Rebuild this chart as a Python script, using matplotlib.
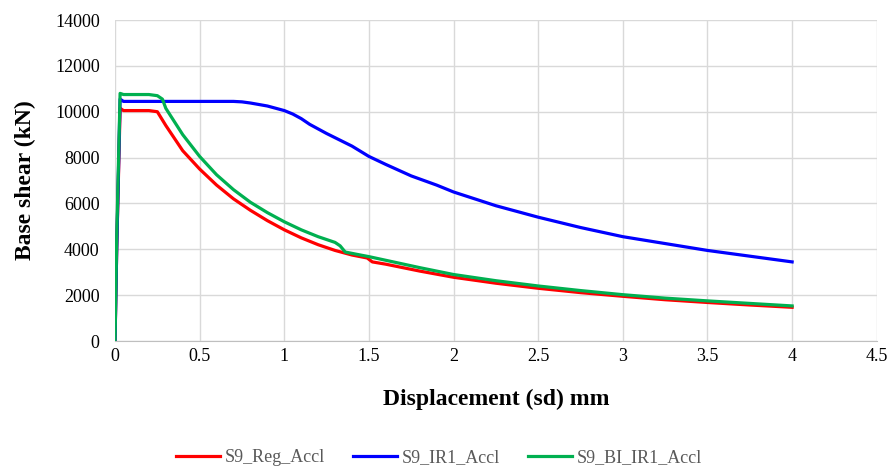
import numpy as np
import matplotlib.pyplot as plt

plt.rcParams["font.family"] = ["Liberation Serif", "DejaVu Serif"]

# ---------------------- Data ---------------------- #
reg_x = [0.0, 0.01, 0.03, 0.05, 0.1, 0.2, 0.25, 0.3, 0.4, 0.5, 0.6, 0.7, 0.8, 0.9, 1.0,
         1.1, 1.2, 1.3, 1.4, 1.49, 1.52, 1.6, 1.8, 2.0, 2.25, 2.5, 2.75, 3.0, 3.25, 3.5,
         3.75, 4.0]
reg_y = [0, 4000, 10150, 10050, 10050, 10050, 10000, 9400, 8300, 7500, 6800, 6200,
         5700, 5250, 4850, 4500, 4200, 3950, 3750, 3620, 3450, 3350, 3050, 2780, 2520,
         2300, 2110, 1950, 1800, 1680, 1570, 1470]

ir1_x = [0.0, 0.01, 0.03, 0.05, 0.1, 0.3, 0.5, 0.7, 0.75, 0.8, 0.9, 1.0, 1.05, 1.1,
         1.15, 1.25, 1.4, 1.5, 1.6, 1.75, 1.9, 2.0, 2.25, 2.5, 2.75, 3.0, 3.25, 3.5,
         3.75, 4.0]
ir1_y = [0, 4000, 10550, 10450, 10450, 10450, 10450, 10450, 10430, 10380, 10250, 10050,
         9900, 9700, 9450, 9050, 8500, 8050, 7700, 7200, 6800, 6500, 5900, 5400, 4950,
         4550, 4250, 3950, 3700, 3450]

bi_x = [0.0, 0.01, 0.03, 0.05, 0.1, 0.2, 0.25, 0.28, 0.3, 0.4, 0.5, 0.6, 0.7, 0.8, 0.9,
        1.0, 1.1, 1.2, 1.3, 1.33, 1.36, 1.45, 1.5, 1.6, 1.8, 2.0, 2.25, 2.5, 2.75, 3.0,
        3.25, 3.5, 3.75, 4.0]
bi_y = [0, 4500, 10800, 10750, 10750, 10750, 10700, 10550, 10150, 9000, 8050, 7250,
        6600, 6050, 5600, 5200, 4850, 4550, 4300, 4150, 3880, 3750, 3680, 3520, 3200,
        2900, 2630, 2400, 2200, 2020, 1870, 1750, 1640, 1530]

xticks = np.arange(0, 4.51, 0.5)
yticks = np.arange(0, 14001, 2000)

# ---------------------------- Plot ---------------------------- #
fig = plt.figure(figsize=(8.93, 4.71), dpi=100)
ax = fig.add_axes([0.1288, 0.276, 0.853, 0.6815])

ax.plot(reg_x, reg_y, color="#ff0000", lw=2.3, label="S9_Reg_Accl", zorder=3)
ax.plot(ir1_x, ir1_y, color="#0000ff", lw=2.3, label="S9_IR1_Accl", zorder=3)
ax.plot(bi_x, bi_y, color="#00b050", lw=2.3, label="S9_BI_IR1_Accl", zorder=3)

ax.set_xlim(0, 4.5)
ax.set_ylim(0, 14000)
ax.set_xticks(xticks)
ax.set_xticklabels(["0", "0.5", "1", "1.5", "2", "2.5", "3", "3.5", "4", "4.5"])
ax.set_yticks(yticks)
ax.grid(True, color="#d9d9d9", lw=1.0)
ax.set_axisbelow(True)
for side in ["top", "right", "left"]:
    ax.spines[side].set_visible(False)
ax.spines["bottom"].set_color("#bfbfbf")
ax.tick_params(length=0, labelsize=13, colors="#000000")
ax.tick_params(axis="x", pad=5)
ax.tick_params(axis="y", pad=11)

ax.set_xlabel("Displacement (sd) mm", fontsize=17, fontweight="bold", labelpad=17)
ax.set_ylabel("Base shear (kN)", fontsize=17, fontweight="bold", labelpad=14)

leg = fig.legend(loc="center", bbox_to_anchor=(0.4916, 0.028), ncol=3, frameon=False,
                 fontsize=13, handlelength=2.45, columnspacing=1.55, handletextpad=0.25)
for t in leg.get_texts():
    t.set_color("#595959")

fig.savefig("out.png", dpi=100)
